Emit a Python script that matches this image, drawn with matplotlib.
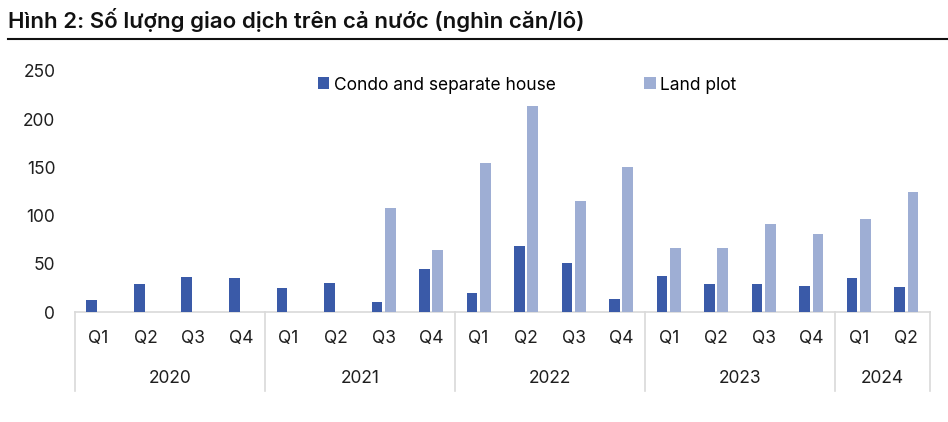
import matplotlib
matplotlib.use("Agg")
import matplotlib.pyplot as plt
import matplotlib.transforms as mtransforms
import numpy as np

plt.rcParams['font.family'] = ['Inter', 'DejaVu Sans']

title = "Hình 2: Số lượng giao dịch trên cả nước (nghìn căn/lô)"
years = ["2020", "2021", "2022", "2023", "2024"]
quarters_per_year = [4, 4, 4, 4, 2]
quarter_labels = ["Q1", "Q2", "Q3", "Q4"] * 4 + ["Q1", "Q2"]
series_names = ["Condo and separate house", "Land plot"]
condo = [13, 29, 37, 36, 25, 30, 11, 45, 20, 69, 51, 14, 38, 29, 29, 27, 35, 26]
land = [0, 0, 0, 0, 0, 0, 108, 64, 154, 213, 115, 150, 67, 67, 91, 81, 97, 125]
yticks = [0, 50, 100, 150, 200, 250]

c_condo = "#3A5AA8"
c_land = "#9EAED4"
c_axis = "#D9D9D9"

W, H = 948, 422
fig = plt.figure(figsize=(W / 100, H / 100), dpi=100)
left_px, right_px, base_px, top_px = 74.7, 930.0, 312.3, 70.7
ax = fig.add_axes([left_px / W, (H - base_px) / H, (right_px - left_px) / W, (base_px - top_px) / H])

n = len(condo)
x = np.arange(n)
bw = 0.225
off = 0.14
ax.bar(x - off, condo, width=bw, color=c_condo, label=series_names[0], zorder=3)
ax.bar(x + off, land, width=bw, color=c_land, label=series_names[1], zorder=3)

ax.set_xlim(-0.5, n - 0.5)
ax.set_ylim(0, 250)
ax.set_yticks(yticks)
ax.set_yticklabels([str(t) for t in yticks], fontsize=12.5, color="#1f1f1f")
ax.tick_params(axis='y', length=0, pad=14)
ax.set_xticks([])
for s in ["top", "right", "left"]:
    ax.spines[s].set_visible(False)
ax.spines["bottom"].set_color(c_axis)
ax.spines["bottom"].set_linewidth(1.2)

axh = base_px - top_px
trans = mtransforms.blended_transform_factory(ax.transData, ax.transAxes)
for i, q in enumerate(quarter_labels):
    ax.text(i, -26.7 / axh, q, transform=trans, ha='center', va='center', fontsize=12.5, color="#1f1f1f")

pos = -0.5
bounds = [pos]
for y, k in zip(years, quarters_per_year):
    ax.text(pos + k / 2, -66.0 / axh, y, transform=trans, ha='center', va='center', fontsize=12.5, color="#1f1f1f")
    pos += k
    bounds.append(pos)
for b in bounds:
    ax.plot([b, b], [0, -78.4 / axh], transform=trans, color=c_axis, lw=1.2, clip_on=False)

fs_leg = 12.5
fig.legend(loc='center', bbox_to_anchor=(527 / W, (H - 85) / H), ncol=2, frameon=False,
           fontsize=fs_leg, handlelength=0.68, handleheight=0.68, handletextpad=0.25,
           columnspacing=5.1, borderpad=0, borderaxespad=0)

fig.text(8 / W, (H - 20) / H, title, ha='left', va='center', fontsize=16, fontweight='semibold', color="#111111")
fig.add_artist(plt.Line2D([8 / W, 1.0], [(H - 38.5) / H] * 2, color="#111111", lw=1.5))

fig.savefig("out.png", dpi=100)
